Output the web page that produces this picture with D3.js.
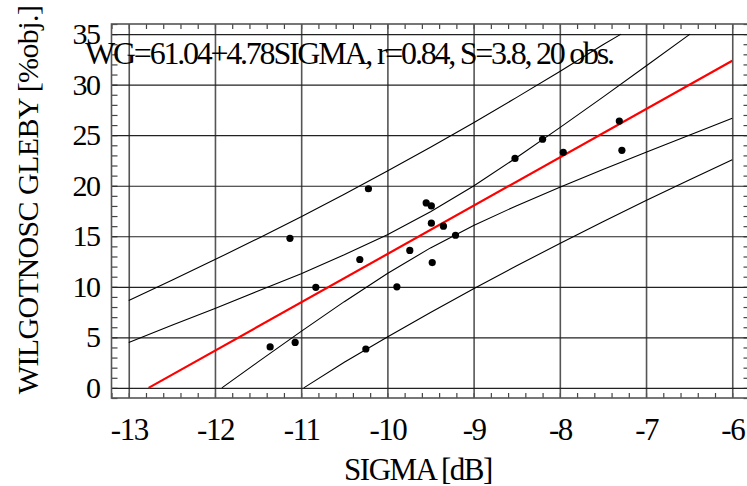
<!DOCTYPE html>
<html>
<head>
<meta charset="utf-8">
<script src="https://cdn.jsdelivr.net/npm/d3@7"></script>
<style>
  body { margin: 0; background: #fff; }
  text { font-family: "Liberation Serif", "DejaVu Serif", serif; fill: #000; }
</style>
</head>
<body>
<div id="chart"></div>
<script>
// observations (SIGMA [dB], WG [%obj.])
const sigmaObs = [-10.22, -9.55, -9.49, -9.49, -9.35, -9.21, -11.13, -9.74, -10.32, -9.48,
                  -10.83, -9.89, -11.36, -11.07, -10.25, -7.31, -7.28, -7.96, -8.20, -8.52];
const wgObs = [19.7, 18.3, 18.0, 16.3, 16.0, 15.1, 14.8, 13.6, 12.7, 12.4,
               9.95, 10.0, 4.05, 4.5, 3.85, 26.4, 23.5, 23.3, 24.6, 22.7];

// fitted line and limits
const fitLine = [[-12.77, 0], [-6, 32.36]];
const confUpper = [[-13, 4.5], [-12.5, 6.2], [-12, 7.86], [-11.5, 9.58], [-11, 11.3], [-10.5, 13.17],
                   [-10, 15.16], [-9.5, 17.42], [-9, 19.98], [-8.5, 22.79], [-8, 25.75], [-7.5, 28.77],
                   [-7, 31.84], [-6.49, 35]];
const confLower = [[-11.92, 0], [-11.5, 2.57], [-11, 5.59], [-10.5, 8.53], [-10, 11.32], [-9.5, 13.85],
                   [-9, 16.06], [-8.5, 18.03], [-8, 19.85], [-7.5, 21.61], [-7, 23.32], [-6.5, 25.0],
                   [-6, 26.67]];
const predUpper = [[-13, 8.65], [-12.5, 10.65], [-12, 12.69], [-11.5, 14.79], [-11, 16.94], [-10.5, 19.16],
                   [-10, 21.45], [-9.5, 23.81], [-9, 26.24], [-8.5, 28.74], [-8, 31.31], [-7.5, 33.94],
                   [-7.29, 35]];
const predLower = [[-10.97, 0], [-10.5, 2.54], [-10, 5.03], [-9.5, 7.45], [-9, 9.8], [-8.5, 12.08],
                   [-8, 14.29], [-7.5, 16.44], [-7, 18.53], [-6.5, 20.57], [-6, 22.56]];

const xTicks = [-13, -12, -11, -10, -9, -8, -7, -6];
const yTicks = [0, 5, 10, 15, 20, 25, 30, 35];
const titleText = 'WG=61.04+4.78SIGMA, r=0.84, S=3.8, 20 obs.';

const width = 747;
const height = 486;
const plot = { left: 111.5, right: 749.5, top: 24, bottom: 398 };

const svg = d3.select('#chart')
  .append('svg')
  .attr('width', width)
  .attr('height', height);

svg.append('rect').attr('width', width).attr('height', height).attr('fill', '#fff');

const x = d3.scaleLinear().domain([-13.2, -5.8]).range([plot.left, plot.right]);
const y = d3.scaleLinear().domain([-1, 36]).range([plot.bottom, plot.top]);

const plotW = plot.right - plot.left;
const plotH = plot.bottom - plot.top;

// minor ticks, all four sides pointing inward
const xMinor = d3.range(-132, -57, 2).map(d => d / 10);
const yMinor = d3.range(-1, 37);

function cleanAxis(g) {
  g.select('.domain').remove();
  g.selectAll('line').attr('stroke', '#444').attr('stroke-width', 1.2);
}

svg.append('g').attr('transform', `translate(0,${plot.bottom})`)
  .call(d3.axisBottom(x).tickValues(xMinor).tickSize(-5).tickFormat(''))
  .call(cleanAxis);
svg.append('g').attr('transform', `translate(0,${plot.top})`)
  .call(d3.axisTop(x).tickValues(xMinor).tickSize(-5).tickFormat(''))
  .call(cleanAxis);
svg.append('g').attr('transform', `translate(${plot.left},0)`)
  .call(d3.axisLeft(y).tickValues(yMinor).tickSize(-6).tickFormat(''))
  .call(cleanAxis);
svg.append('g').attr('transform', `translate(${plot.right},0)`)
  .call(d3.axisRight(y).tickValues(yMinor).tickSize(-6).tickFormat(''))
  .call(cleanAxis);

// gridlines
svg.append('g').attr('class', 'grid-x')
  .attr('transform', `translate(0,${plot.bottom})`)
  .call(d3.axisBottom(x).tickValues(xTicks).tickSize(-plotH).tickFormat(''))
  .call(g => {
    g.select('.domain').remove();
    g.selectAll('line').attr('stroke', '#555').attr('stroke-width', 1.6);
  });
svg.append('g').attr('class', 'grid-y')
  .attr('transform', `translate(${plot.left},0)`)
  .call(d3.axisLeft(y).tickValues(yTicks).tickSize(-plotW).tickFormat(''))
  .call(g => {
    g.select('.domain').remove();
    g.selectAll('line').attr('stroke', '#222').attr('stroke-width', 1.2);
  });

// frame
svg.append('rect')
  .attr('x', plot.left).attr('y', plot.top)
  .attr('width', plotW).attr('height', plotH)
  .attr('fill', 'none').attr('stroke', '#555').attr('stroke-width', 1.6);

// tick labels
svg.append('g')
  .attr('transform', `translate(0,${plot.bottom})`)
  .call(d3.axisBottom(x).tickValues(xTicks).tickSize(0).tickPadding(20).tickFormat(d => String(d)))
  .call(g => {
    g.select('.domain').remove();
    g.selectAll('text').attr('font-size', 31).attr('letter-spacing', -1.5)
      .style('font-family', '"Liberation Serif", serif');
  });
svg.append('g')
  .attr('transform', `translate(${plot.left},0)`)
  .call(d3.axisLeft(y).tickValues(yTicks).tickSize(0).tickPadding(12).tickFormat(d => String(d)))
  .call(g => {
    g.select('.domain').remove();
    g.selectAll('text').attr('font-size', 30).attr('letter-spacing', -1.5)
      .style('font-family', '"Liberation Serif", serif');
  });

// fitted line and limits
const line = d3.line().x(d => x(d[0])).y(d => y(d[1]));
[confUpper, confLower, predUpper, predLower].forEach(arr => {
  svg.append('path').datum(arr)
    .attr('d', line)
    .attr('fill', 'none')
    .attr('stroke', '#000')
    .attr('stroke-width', 1.1);
});
svg.append('path').datum(fitLine)
  .attr('d', line)
  .attr('fill', 'none')
  .attr('stroke', '#ff0000')
  .attr('stroke-width', 2.2);

// points
svg.append('g').selectAll('circle')
  .data(sigmaObs.map((s, i) => [s, wgObs[i]]))
  .join('circle')
  .attr('cx', d => x(d[0]))
  .attr('cy', d => y(d[1]))
  .attr('r', 3.6)
  .attr('fill', '#000');

// title / equation
svg.append('text')
  .attr('x', 85).attr('y', 64)
  .attr('font-size', 32)
  .attr('textLength', 530)
  .attr('lengthAdjust', 'spacing')
  .text(titleText);

// axis titles
svg.append('text')
  .attr('x', 418).attr('y', 480)
  .attr('text-anchor', 'middle')
  .attr('font-size', 31)
  .attr('letter-spacing', -1.5)
  .text('SIGMA [dB]');

svg.append('text')
  .attr('transform', 'translate(38,200) rotate(-90)')
  .attr('text-anchor', 'middle')
  .attr('font-size', 30)
  .attr('letter-spacing', -0.6)
  .text('WILGOTNOSC GLEBY [%obj.]');
</script>
</body>
</html>
